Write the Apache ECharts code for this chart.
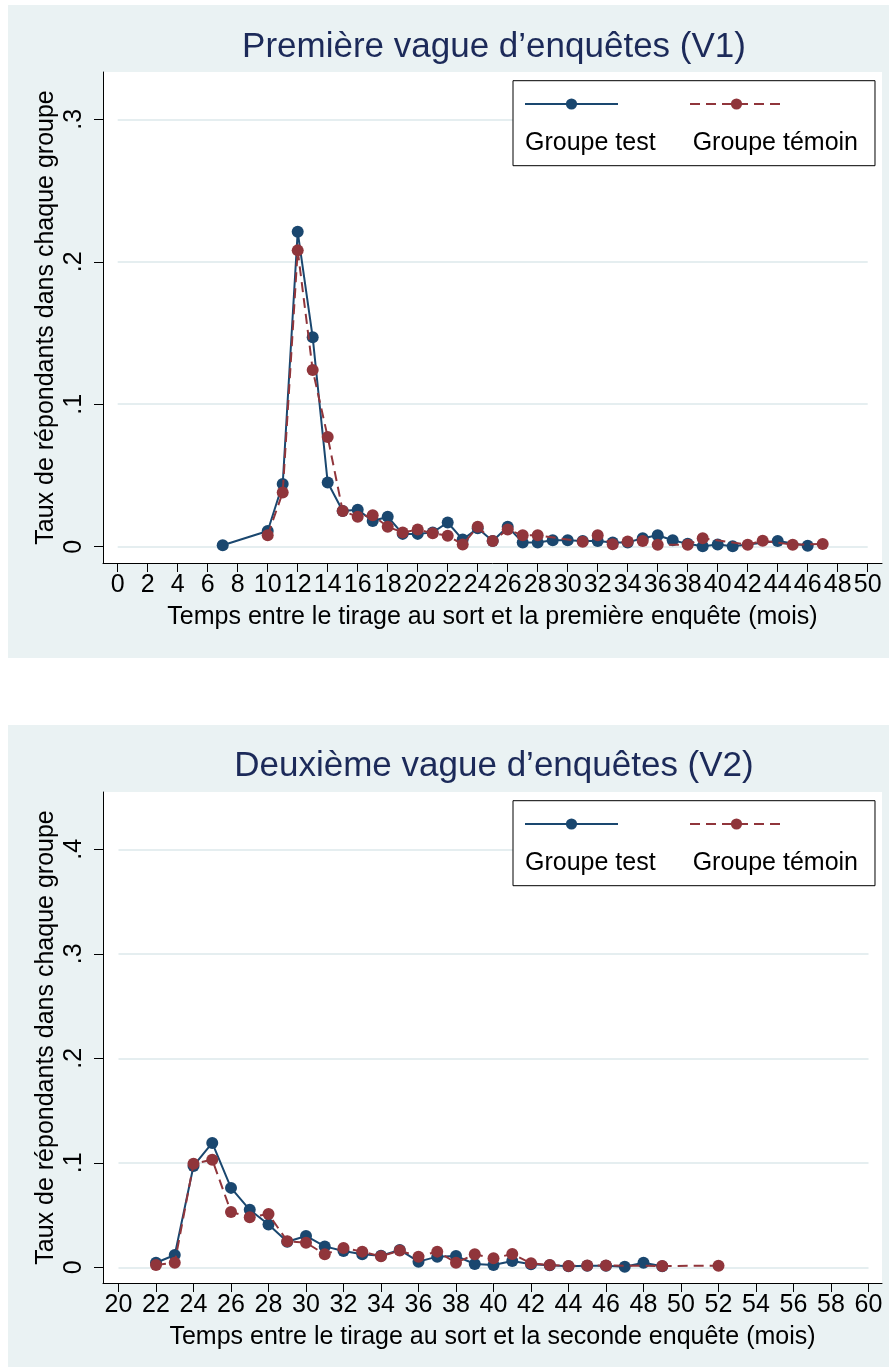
<!DOCTYPE html>
<html><head><meta charset="utf-8">
<script src="https://cdn.jsdelivr.net/npm/echarts@6/dist/echarts.min.js"></script>
<style>html,body{margin:0;padding:0;background:#fff}#c{width:893px;height:1371px}</style>
</head><body><div id="c"></div>
<script>
// ---------- texts ----------
const titleV1 = "Première vague d’enquêtes (V1)";
const titleV2 = "Deuxième vague d’enquêtes (V2)";
const xTitleV1 = "Temps entre le tirage au sort et la première enquête (mois)";
const xTitleV2 = "Temps entre le tirage au sort et la seconde enquête (mois)";
const yTitle = "Taux de répondants dans chaque groupe";
const seriesNames = ["Groupe test", "Groupe témoin"];

// ---------- data: wave 1 ----------
const monthsV1 = [7,8,9,10,11,12,13,14,15,16,17,18,19,20,21,22,23,24,25,26,27,28,29,30,31,32,33,34,35,36,37,38,39,40,41,42,43,44,45,46,47];
const testV1 = [0.001,null,null,0.011,0.044,0.221,0.147,0.045,0.025,0.026,0.018,0.021,0.009,0.009,0.010,0.017,0.005,0.013,0.004,0.014,0.003,0.003,0.0045,0.0045,0.004,0.004,0.003,0.003,0.006,0.008,0.0045,0.002,0.0003,0.0015,0.0003,null,null,0.004,null,0.0007,null];
const temoinV1 = [null,null,null,0.008,0.038,0.208,0.124,0.077,0.025,0.021,0.022,0.014,0.010,0.012,0.0095,0.0077,0.0015,0.014,0.004,0.012,0.008,0.008,null,null,0.0035,0.008,0.0018,0.0037,0.004,0.0014,null,0.0014,0.006,null,null,0.0014,0.0042,null,0.0014,null,0.0019];

// ---------- data: wave 2 ----------
const monthsV2 = [22,23,24,25,26,27,28,29,30,31,32,33,34,35,36,37,38,39,40,41,42,43,44,45,46,47,48,49,50,51,52];
const testV2 = [0.0044,0.0118,0.097,0.119,0.076,0.055,0.041,0.0245,0.030,0.020,0.0156,0.0124,0.011,0.0166,0.0054,0.0102,0.0108,0.0032,0.0022,0.006,0.003,0.002,0.001,0.0015,0.0015,0.0006,0.0044,0.001,null,null,null];
const temoinV2 = [0.0022,0.0044,0.099,0.103,0.053,0.048,0.051,0.025,0.0236,0.0124,0.0185,0.015,0.0105,0.016,0.0102,0.015,0.0044,0.0124,0.0086,0.0127,0.0038,0.0022,0.0013,0.0017,0.0017,null,null,0.0013,null,null,0.0015];

// ---------- axis ranges ----------
const xRangeV1 = [0, 50], xStepV1 = 2;
const yRangeV1 = [0, 0.3], yStepV1 = 0.1;
const xRangeV2 = [20, 60], xStepV2 = 2;
const yRangeV2 = [0, 0.4], yStepV2 = 0.1;

// ---------- styles ----------
const FONT = "'Liberation Sans', Arial, Helvetica, sans-serif";
const NAVY = '#1a476f', MAROON = '#90353b', PANEL_BG = '#eaf2f3', GRID = '#e5eef0', TITLE_C = '#1c2a59';

function pairs(xs, ys) { return xs.map((x, i) => [x, ys[i]]).filter(p => p[1] !== null); }
const yFmt = v => { const r = Math.round(v * 10) / 10; return r === 0 ? '0' : String(r).replace(/^0\./, '.'); };

// panel layouts
const L = [
  { bg: [8, 5, 881, 653], frame: { left: 103, top: 72, width: 779, height: 491 },
    data: { left: 117.7, top: 119.3, width: 750, height: 427.4 }, xOff: 16.3, yOff: 14.7,
    titleY: 47, legTop: 80.7, xr: xRangeV1, xs: xStepV1, yr: yRangeV1, ys: yStepV1,
    title: titleV1, xName: xTitleV1, sets: [pairs(monthsV1, testV1), pairs(monthsV1, temoinV1)] },
  { bg: [8, 725, 881, 642], frame: { left: 103, top: 792, width: 779, height: 491 },
    data: { left: 118.5, top: 849.3, width: 750, height: 418 }, xOff: 15.7, yOff: 15.5,
    titleY: 766, legTop: 800.7, xr: xRangeV2, xs: xStepV2, yr: yRangeV2, ys: yStepV2,
    title: titleV2, xName: xTitleV2, sets: [pairs(monthsV2, testV2), pairs(monthsV2, temoinV2)] }
];

const grid = [], xAxis = [], yAxis = [], series = [], title = [], legend = [], graphicEls = [];
L.forEach((p, k) => {
  const gf = grid.length, gd = gf + 1;
  graphicEls.push({ type: 'rect', shape: { x: p.bg[0], y: p.bg[1], width: p.bg[2], height: p.bg[3] }, style: { fill: PANEL_BG }, z: -10, silent: true });
  grid.push(Object.assign({ show: true, backgroundColor: '#fff', borderWidth: 0 }, p.frame));
  grid.push(Object.assign({ show: false }, p.data));
  // frame axes (axis lines + titles)
  xAxis.push({ gridIndex: gf, type: 'value', min: 0, max: 1, axisLine: { show: true, onZero: false, lineStyle: { color: '#000', width: 1 } },
    axisTick: { show: false }, axisLabel: { show: false }, splitLine: { show: false },
    name: p.xName, nameLocation: 'middle', nameGap: 42, nameTextStyle: { fontSize: 25, color: '#000', fontFamily: FONT } });
  yAxis.push({ gridIndex: gf, type: 'value', min: 0, max: 1, axisLine: { show: true, onZero: false, lineStyle: { color: '#000', width: 1 } },
    axisTick: { show: false }, axisLabel: { show: false }, splitLine: { show: false },
    name: yTitle, nameLocation: 'middle', nameRotate: 90, nameGap: 44, nameTextStyle: { fontSize: 25, color: '#000', fontFamily: FONT } });
  // data axes
  xAxis.push({ gridIndex: gd, type: 'value', min: p.xr[0], max: p.xr[1], interval: p.xs, offset: p.xOff,
    axisLine: { show: false, onZero: false }, axisTick: { show: true, length: 9, lineStyle: { color: '#000', width: 1 } },
    axisLabel: { fontSize: 25, color: '#000', margin: 10, fontFamily: FONT, hideOverlap: false }, splitLine: { show: false } });
  yAxis.push({ gridIndex: gd, type: 'value', min: p.yr[0], max: p.yr[1], interval: p.ys, offset: p.yOff,
    axisLine: { show: false, onZero: false }, axisTick: { show: true, length: 9, lineStyle: { color: '#000', width: 1 } },
    axisLabel: { fontSize: 25, color: '#000', rotate: 90, margin: 16, formatter: yFmt, fontFamily: FONT },
    splitLine: { show: true, lineStyle: { color: GRID, width: 2 } } });
  const xi = xAxis.length - 1, yi = yAxis.length - 1;
  series.push({ type: 'line', name: seriesNames[0], xAxisIndex: xi, yAxisIndex: yi, data: p.sets[0],
    symbol: 'circle', symbolSize: 12, lineStyle: { color: NAVY, width: 2 }, itemStyle: { color: NAVY, borderWidth: 0 }, z: 3 });
  series.push({ type: 'line', name: seriesNames[1], xAxisIndex: xi, yAxisIndex: yi, data: p.sets[1],
    symbol: 'circle', symbolSize: 12, lineStyle: { color: MAROON, width: 2, type: [10, 6] }, itemStyle: { color: MAROON, borderWidth: 0 }, z: 4 });
  title.push({ text: p.title, left: 494, top: p.titleY, textAlign: 'center', textVerticalAlign: 'middle', padding: 0,
    textStyle: { fontSize: 35, fontWeight: 'normal', color: TITLE_C, fontFamily: FONT } });
  // legend box with text
  legend.push({ data: seriesNames, left: 513, top: p.legTop, padding: [49, 17, 10, 7], itemWidth: 0, itemHeight: 0, itemGap: 32,
    icon: 'rect', itemStyle: { opacity: 0 }, selectedMode: false, z: 4,
    textStyle: { fontSize: 25, color: '#000', lineHeight: 26, fontFamily: FONT },
    borderColor: '#000', borderWidth: 1, backgroundColor: '#fff' });
  // legend symbols row
  legend.push({ data: seriesNames, left: 524, top: p.legTop + 16.3, padding: 0, itemWidth: 93, itemHeight: 14, itemGap: 70,
    selectedMode: false, z: 6, formatter: () => '', textStyle: { fontSize: 10 } });
});

const chart = echarts.init(document.getElementById('c'), null, { renderer: 'canvas' });
chart.setOption({
  animation: false,
  backgroundColor: '#fff',
  textStyle: { fontFamily: FONT },
  graphic: { elements: graphicEls },
  title, legend, grid, xAxis, yAxis, series
});
</script>
</body></html>
